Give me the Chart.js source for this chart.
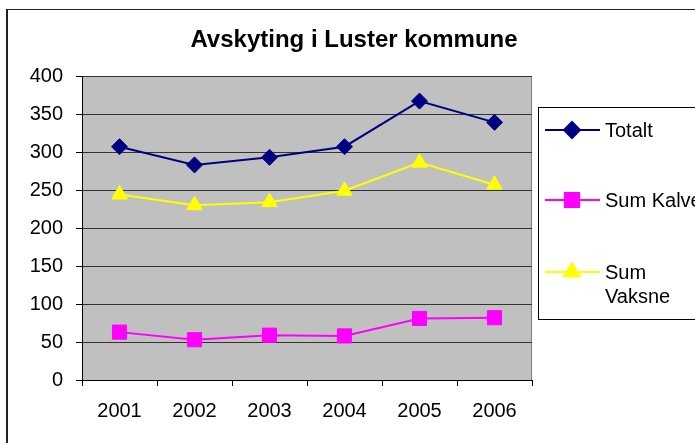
<!DOCTYPE html>
<html>
<head>
<meta charset="utf-8">
<script src="https://cdn.jsdelivr.net/npm/chart.js@4.4.1/dist/chart.umd.min.js"></script>
<style>
  html, body { margin: 0; padding: 0; overflow: hidden; background: #fff; }
  #wrap { position: absolute; left: 0; top: 0; width: 708px; height: 460px; }
</style>
</head>
<body>
<div id="wrap"><canvas id="chart" width="708" height="460"></canvas></div>
<script>
/* ── data ─────────────────────────────────────────────────────── */
const years      = ["2001", "2002", "2003", "2004", "2005", "2006"];
const totalt     = [307, 283, 293, 307, 367, 339];
const sumKalver  = [63, 53, 59, 58, 81, 82];
const sumVaksne  = [244, 230, 234, 249, 286, 257];
const yTicks     = [0, 50, 100, 150, 200, 250, 300, 350, 400];
const chartTitle = "Avskyting i Luster kommune";

const FONT = "'Liberation Sans', Arial, sans-serif";

/* ── frame, title, plot background ────────────────────────────── */
const backdrop = {
    id: "backdrop",
    beforeDraw(chart) {
        const { ctx, chartArea: a, width, height } = chart;
        ctx.save();
        ctx.fillStyle = "#fff";
        ctx.fillRect(0, 0, width, height);
        // outer chart border
        ctx.fillStyle = "#222";
        ctx.fillRect(6, 9, 2, height);
        ctx.fillRect(6, 9, width, 1);
        // title is centred on the whole chart, not on the plot
        ctx.fillStyle = "#000";
        ctx.font = "bold 24px " + FONT;
        ctx.textAlign = "center";
        ctx.textBaseline = "alphabetic";
        ctx.fillText(chartTitle, 354, 47);
        // gray plot area
        ctx.fillStyle = "#c0c0c0";
        ctx.fillRect(a.left, a.top, a.right - a.left, a.bottom - a.top);
        ctx.strokeStyle = "#808080";
        ctx.lineWidth = 1;
        ctx.strokeRect(a.left + 0.5, a.top + 0.5, a.right - a.left - 1, a.bottom - a.top);
        ctx.restore();
    }
};

/* ── legend box on the right (Excel style) ────────────────────── */
const boxLegend = {
    id: "boxLegend",
    afterDraw(chart) {
        const { ctx } = chart;
        const box = { left: 538.5, top: 107.5, right: 714.5, bottom: 319.5 };
        const rowY = [130, 200, 272];
        ctx.save();
        ctx.fillStyle = "#fff";
        ctx.fillRect(box.left, box.top, box.right - box.left, box.bottom - box.top);
        ctx.strokeStyle = "#000";
        ctx.lineWidth = 1;
        ctx.strokeRect(box.left, box.top, box.right - box.left, box.bottom - box.top);

        ctx.font = "20px " + FONT;
        ctx.textBaseline = "middle";
        const textX = 605;
        const maxW = box.right - textX - 2;

        chart.data.datasets.forEach((ds, i) => {
            const y = rowY[i];
            ctx.strokeStyle = ds.borderColor;
            ctx.lineWidth = 2;
            ctx.beginPath();
            ctx.moveTo(545, y);
            ctx.lineTo(600, y);
            ctx.stroke();

            ctx.fillStyle = ds.backgroundColor;
            ctx.strokeStyle = ds.borderColor;
            Chart.helpers.drawPoint(ctx, {
                pointStyle: ds.pointStyle, radius: ds.pointRadius, rotation: 0, borderWidth: 1
            }, 572, y);

            // wrap label like Excel does
            const words = ds.label.split(" ");
            const lines = [];
            let cur = "";
            words.forEach(w => {
                const test = cur ? cur + " " + w : w;
                if (cur && ctx.measureText(test).width > maxW) {
                    lines.push(cur);
                    cur = w;
                } else {
                    cur = test;
                }
            });
            lines.push(cur);
            ctx.fillStyle = "#000";
            lines.forEach((ln, k) => ctx.fillText(ln, textX, y + 1 + k * 24));
        });
        ctx.restore();
    }
};

/* ── chart ────────────────────────────────────────────────────── */
new Chart(document.getElementById("chart"), {
    type: "line",
    data: {
        labels: years,
        datasets: [
            {
                label: "Totalt",
                data: totalt,
                borderColor: "#000080",
                backgroundColor: "#000080",
                borderWidth: 2,
                pointStyle: "rectRot",
                pointRadius: 8,
                pointBorderWidth: 1
            },
            {
                label: "Sum Kalver",
                data: sumKalver,
                borderColor: "#ff00ff",
                backgroundColor: "#ff00ff",
                borderWidth: 2,
                pointStyle: "rect",
                pointRadius: 10,
                pointBorderWidth: 1
            },
            {
                label: "Sum Vaksne",
                data: sumVaksne,
                borderColor: "#ffff00",
                backgroundColor: "#ffff00",
                borderWidth: 2,
                pointStyle: "triangle",
                pointRadius: 9,
                pointBorderWidth: 1
            }
        ]
    },
    options: {
        responsive: false,
        animation: false,
        devicePixelRatio: 1,
        layout: { padding: { left: 0, right: 176, top: 76, bottom: 0 } },
        plugins: {
            legend: { display: false },
            tooltip: { enabled: false },
            title: { display: false }
        },
        scales: {
            x: {
                offset: true,
                afterFit(scale) { scale.height = 80; },
                grid: {
                    offset: true,
                    drawOnChartArea: false,
                    drawTicks: true,
                    tickLength: 6,
                    tickColor: "#000"
                },
                border: { color: "#000", width: 1 },
                ticks: { color: "#000", padding: 13, font: { family: FONT, size: 20 } }
            },
            y: {
                min: 0,
                max: 400,
                afterFit(scale) { scale.width = 82; },
                afterBuildTicks(scale) { scale.ticks = yTicks.map(v => ({ value: v })); },
                grid: {
                    color: "#333",
                    tickColor: "#000",
                    tickLength: 6
                },
                border: { color: "#000", width: 1 },
                ticks: { color: "#000", padding: 13, font: { family: FONT, size: 20 } }
            }
        }
    },
    plugins: [backdrop, boxLegend]
});
</script>
</body>
</html>
